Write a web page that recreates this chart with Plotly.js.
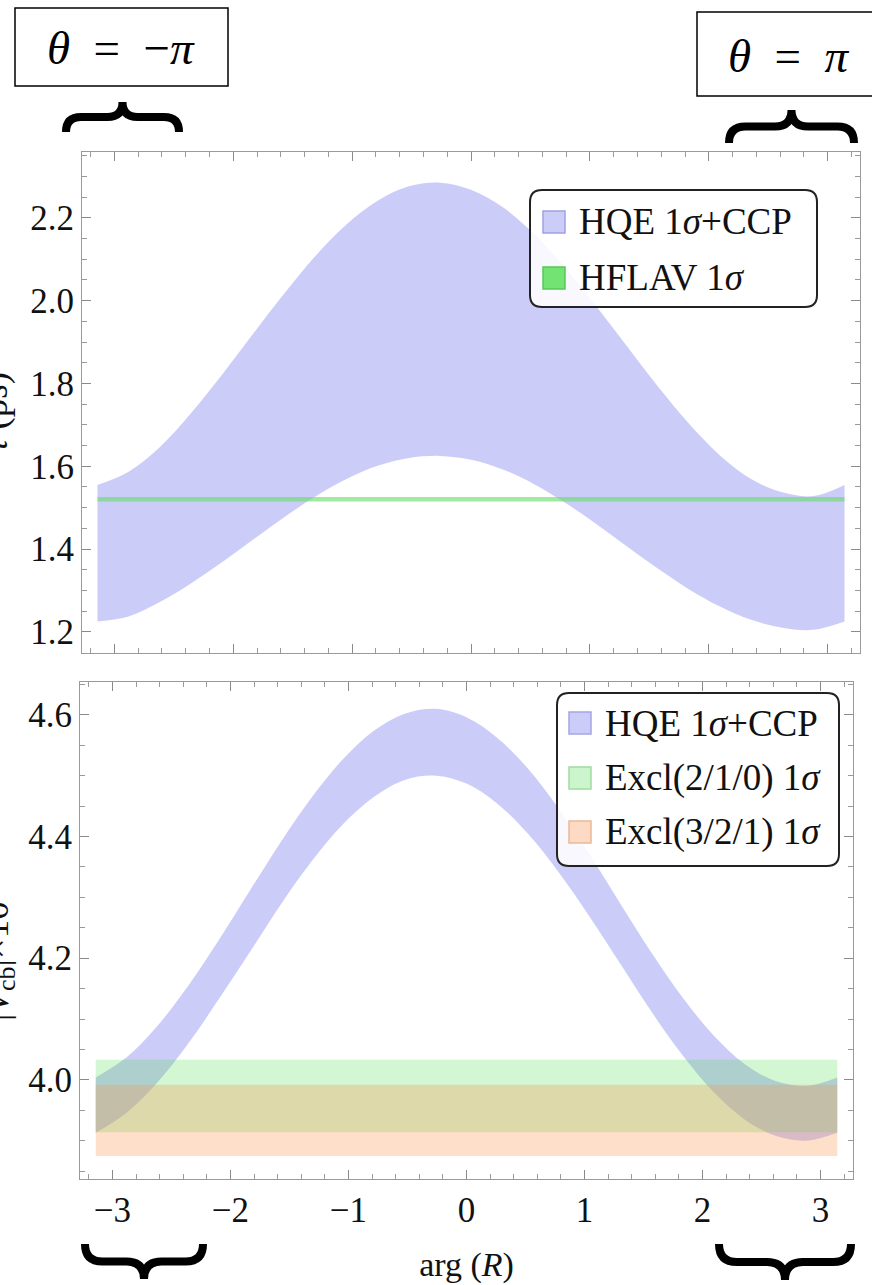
<!DOCTYPE html>
<html><head><meta charset="utf-8">
<script src="https://cdn.plot.ly/plotly-3.0.1.min.js"></script>
<style>html,body{margin:0;padding:0;background:#fff}#chart{width:872px;height:1285px}</style>
</head><body><div id="chart"></div>
<script>
// ---- data ----
const argR = [-3.1416,-2.8798,-2.6180,-2.3562,-2.0944,-1.8326,-1.5708,-1.3090,-1.0472,-0.7854,-0.5236,-0.2618,0,
              0.2618,0.5236,0.7854,1.0472,1.3090,1.5708,1.8326,2.0944,2.3562,2.6180,2.8798,3.1416];
const tauUpper = [1.555,1.587,1.646,1.728,1.821,1.920,2.017,2.108,2.184,2.241,2.276,2.285,2.268,
                  2.227,2.163,2.082,1.989,1.891,1.793,1.703,1.626,1.569,1.537,1.528,1.555];
const tauLower = [1.225,1.237,1.272,1.317,1.368,1.423,1.477,1.527,1.569,1.601,1.620,1.625,1.616,
                  1.593,1.558,1.513,1.462,1.407,1.353,1.303,1.261,1.229,1.210,1.205,1.225];
const vcbUpper = [4.004,4.037,4.089,4.155,4.231,4.312,4.392,4.465,4.527,4.574,4.602,4.610,4.596,
                  4.562,4.511,4.445,4.369,4.288,4.208,4.135,4.073,4.026,3.998,3.990,4.004];
const vcbLower = [3.913,3.946,3.996,4.060,4.134,4.211,4.289,4.360,4.420,4.465,4.493,4.500,4.487,
                  4.454,4.404,4.340,4.267,4.189,4.111,4.040,3.980,3.935,3.908,3.900,3.913];
const bandX = [-3.1416, 3.1416];
const hflavLow = [1.515, 1.515], hflavHigh = [1.526, 1.526];
const excl210Low = [3.914, 3.914], excl210High = [4.033, 4.033];
const excl321Low = [3.875, 3.875], excl321High = [3.992, 3.992];
const xTickVals = [-3,-2,-1,0,1,2,3];
const tauTickVals = [1.2,1.4,1.6,1.8,2.0,2.2];
const tauTickText = ['1.2','1.4','1.6','1.8','2.0','2.2'];
const vcbTickVals = [4.0,4.2,4.4,4.6];
const vcbTickText = ['4.0','4.2','4.4','4.6'];
const legendTop = ['HQE 1<i>σ</i>+CCP','HFLAV 1<i>σ</i>'];
const legendBottom = ['HQE 1<i>σ</i>+CCP','Excl(2/1/0) 1<i>σ</i>','Excl(3/2/1) 1<i>σ</i>'];

// ---- styling ----
const W = 872, H = 1285;
const SERIF = 'Liberation Serif, Times New Roman, serif';
const BLUE = 'rgba(128,128,240,0.4)';
const GREEN_LINE = 'rgba(100,220,100,0.6)';
const GREEN = 'rgba(80,220,80,0.25)';
const ORANGE = 'rgba(250,150,80,0.3)';
const px = x => +(x / W).toFixed(5);
const py = y => +(1 - y / H).toFixed(5);
const P = (x, y) => px(x) + ',' + py(y);

function band(x, lo, hi, color, xa, ya, spline) {
  const shape = spline ? 'spline' : 'linear';
  return [
    {x: x, y: lo, xaxis: xa, yaxis: ya, mode: 'lines', line: {width: 0, shape: shape}, showlegend: false, hoverinfo: 'skip'},
    {x: x, y: hi, xaxis: xa, yaxis: ya, mode: 'lines', line: {width: 0, shape: shape}, fill: 'tonexty', fillcolor: color, showlegend: false, hoverinfo: 'skip'}
  ];
}

const data = [].concat(
  band(argR, tauLower, tauUpper, BLUE, 'x', 'y', true),
  band(bandX, hflavLow, hflavHigh, GREEN_LINE, 'x', 'y', false),
  band(argR, vcbLower, vcbUpper, BLUE, 'x2', 'y2', true),
  band(bandX, excl210Low, excl210High, GREEN, 'x2', 'y2', false),
  band(bandX, excl321Low, excl321High, ORANGE, 'x2', 'y2', false)
);

const tickFont = {family: SERIF, size: 35, color: '#111'};
function frameAxis(extra) {
  return Object.assign({
    showline: true, linecolor: '#9a9a9a', linewidth: 1, mirror: 'ticks',
    ticks: 'inside', ticklen: 9, tickwidth: 1, tickcolor: '#8a8a8a',
    showgrid: false, zeroline: false, tickfont: tickFont, fixedrange: true
  }, extra);
}

function roundRect(x0, y0, x1, y1, r) {
  return 'M' + P(x0 + r, y0) + ' L' + P(x1 - r, y0) + ' Q' + P(x1, y0) + ' ' + P(x1, y0 + r) +
         ' L' + P(x1, y1 - r) + ' Q' + P(x1, y1) + ' ' + P(x1 - r, y1) +
         ' L' + P(x0 + r, y1) + ' Q' + P(x0, y1) + ' ' + P(x0, y1 - r) +
         ' L' + P(x0, y0 + r) + ' Q' + P(x0, y0) + ' ' + P(x0 + r, y0) + ' Z';
}
function brace(x0, x1, yb, yt) {
  const xc = (x0 + x1) / 2, ym = (yb + yt) / 2, r = Math.abs(yb - yt) / 2;
  return 'M' + P(x0, yb) + ' Q' + P(x0, ym) + ' ' + P(x0 + r, ym) + ' L' + P(xc - r, ym) +
         ' Q' + P(xc, ym) + ' ' + P(xc, yt) + ' Q' + P(xc, ym) + ' ' + P(xc + r, ym) +
         ' L' + P(x1 - r, ym) + ' Q' + P(x1, ym) + ' ' + P(x1, yb);
}
const paper = {xref: 'paper', yref: 'paper'};
const shapes = [
  Object.assign({type: 'rect', x0: px(15), x1: px(228), y0: py(86), y1: py(8), line: {color: '#000', width: 1.5}}, paper),
  Object.assign({type: 'rect', x0: px(697), x1: px(890), y0: py(96), y1: py(12), line: {color: '#000', width: 1.5}}, paper),
  Object.assign({type: 'path', path: brace(66, 179, 132, 102), line: {color: '#000', width: 8}}, paper),
  Object.assign({type: 'path', path: brace(729, 854, 143, 110), line: {color: '#000', width: 8}}, paper),
  Object.assign({type: 'path', path: brace(85, 203, 1244, 1279), line: {color: '#000', width: 8}}, paper),
  Object.assign({type: 'path', path: brace(719, 851, 1244, 1280), line: {color: '#000', width: 8}}, paper),
  // legends
  Object.assign({type: 'path', path: roundRect(530, 190, 817, 307, 12), fillcolor: 'rgba(255,255,255,0.85)', line: {color: '#222', width: 2}}, paper),
  Object.assign({type: 'path', path: roundRect(557, 693, 839, 866, 12), fillcolor: 'rgba(255,255,255,0.85)', line: {color: '#222', width: 2}}, paper)
];
const swatches = [
  [543, 211, 'rgb(204,204,249)', 'rgb(160,160,225)'],
  [543, 267, 'rgb(115,228,115)', 'rgb(85,200,85)'],
  [569, 712, 'rgb(204,204,249)', 'rgb(165,165,230)'],
  [569, 767, 'rgb(205,245,205)', 'rgb(160,220,160)'],
  [569, 821, 'rgb(253,218,195)', 'rgb(235,185,150)']
];
swatches.forEach(s => shapes.push(Object.assign({type: 'rect', x0: px(s[0]), x1: px(s[0] + 22), y0: py(s[1] + 22), y1: py(s[1]),
  fillcolor: s[2], line: {color: s[3], width: 1.5}}, paper)));

const legFont = {family: SERIF, size: 37, color: '#111'};
function ann(text, x, y, font, extra) {
  return Object.assign({text: text, x: px(x), y: py(y), xref: 'paper', yref: 'paper', showarrow: false,
    xanchor: 'left', yanchor: 'middle', font: font}, extra || {});
}
const annotations = [
  ann(legendTop[0], 577, 222, legFont), ann(legendTop[1], 577, 278, legFont),
  ann(legendBottom[0], 603, 723, legFont), ann(legendBottom[1], 603, 778, legFont), ann(legendBottom[2], 603, 832, legFont),
  ann('<i>θ</i>\u2002=\u2002−<i>π</i>', 121, 48, {family: SERIF, size: 47, color: '#000'}, {xanchor: 'center'}),
  ann('<i>θ</i>\u2002=\u2002<i>π</i>', 789, 56, {family: SERIF, size: 47, color: '#000'}, {xanchor: 'center'}),
  ann('<i>τ</i> (ps)', -5, 412, {family: SERIF, size: 37, color: '#111'}, {xanchor: 'center', textangle: -90}),
  ann('|<i>V</i><sub>cb</sub>|×10<sup>2</sup>', -5, 955, {family: SERIF, size: 37, color: '#111'}, {xanchor: 'center', textangle: -90})
];

const layout = {
  width: W, height: H,
  margin: {l: 0, r: 0, t: 0, b: 0},
  paper_bgcolor: '#fff', plot_bgcolor: '#fff',
  showlegend: false,
  xaxis: frameAxis({domain: [px(82), px(860)], range: [-3.272, 3.272], anchor: 'y', tickvals: xTickVals, showticklabels: false,
    minor: {ticks: 'inside', ticklen: 5, tickcolor: '#9a9a9a', dtick: 0.2, tick0: 0, showgrid: false}}),
  yaxis: frameAxis({domain: [py(653), py(152)], range: [1.149, 2.359], anchor: 'x', tickvals: tauTickVals, ticktext: tauTickText,
    minor: {ticks: 'inside', ticklen: 5, tickcolor: '#9a9a9a', dtick: 0.05, tick0: 0, showgrid: false}}),
  xaxis2: frameAxis({domain: [px(80), px(853)], range: [-3.275, 3.275], anchor: 'y2', tickvals: xTickVals,
    title: {text: 'arg (<i>R</i>)', font: {family: SERIF, size: 34, color: '#111'}, standoff: 23},
    minor: {ticks: 'inside', ticklen: 5, tickcolor: '#9a9a9a', dtick: 0.2, tick0: 0, showgrid: false}}),
  yaxis2: frameAxis({domain: [py(1179), py(682)], range: [3.837, 4.654], anchor: 'x2', tickvals: vcbTickVals, ticktext: vcbTickText,
    minor: {ticks: 'inside', ticklen: 5, tickcolor: '#9a9a9a', dtick: 0.05, tick0: 0, showgrid: false}}),
  shapes: shapes,
  annotations: annotations
};

Plotly.newPlot('chart', data, layout, {staticPlot: true, displayModeBar: false});
</script>
</body></html>
